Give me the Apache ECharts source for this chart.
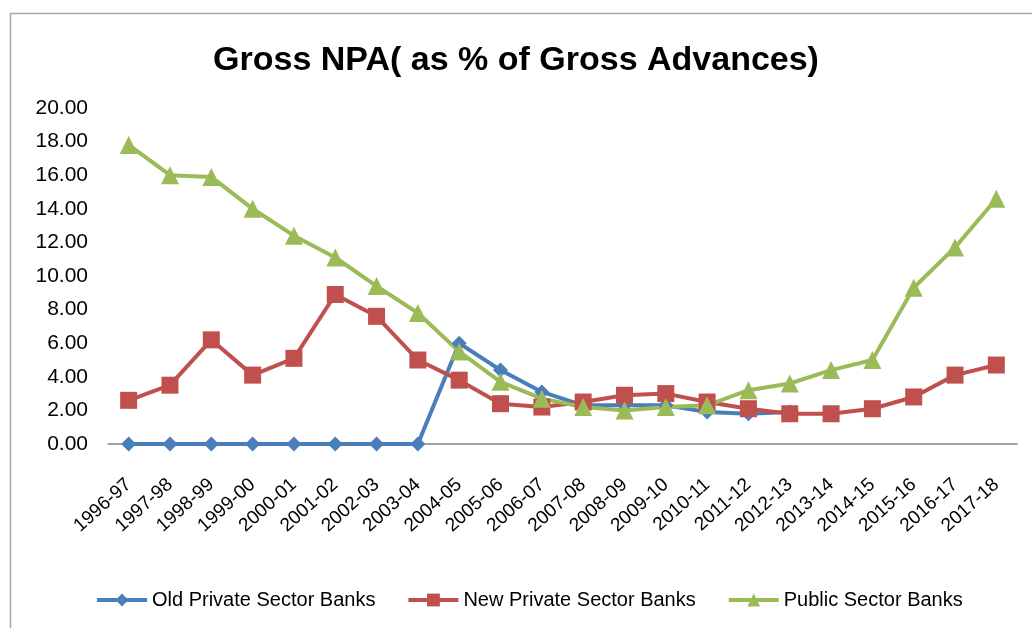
<!DOCTYPE html>
<html>
<head>
<meta charset="utf-8">
<script src="https://cdn.jsdelivr.net/npm/echarts@6/dist/echarts.min.js"></script>
<style>
  html, body { margin: 0; padding: 0; background: #fff; }
  #chart { width: 1032px; height: 628px; }
</style>
</head>
<body>
<div id="chart"></div>
<script>
// Fiscal years
const years = ['1996-97','1997-98','1998-99','1999-00','2000-01','2001-02','2002-03','2003-04',
  '2004-05','2005-06','2006-07','2007-08','2008-09','2009-10','2010-11','2011-12','2012-13',
  '2013-14','2014-15','2015-16','2016-17','2017-18'];

// Gross NPA as % of gross advances
const oldPrivate = [0, 0, 0, 0, 0, 0, 0, 0, 6.0, 4.4, 3.1, 2.3, 2.3, 2.3, 1.9, 1.8, 1.9,
  null, null, null, null, null];
const newPrivate = [2.6, 3.5, 6.2, 4.1, 5.1, 8.9, 7.6, 5.0, 3.8, 2.4, 2.2, 2.5, 2.9, 3.0, 2.5, 2.1, 1.8,
  1.8, 2.1, 2.8, 4.1, 4.7];
const publicSector = [17.8, 16.0, 15.9, 14.0, 12.4, 11.1, 9.4, 7.8, 5.5, 3.7, 2.7, 2.2, 2.0, 2.2, 2.3, 3.2, 3.6,
  4.4, 5.0, 9.3, 11.7, 14.6];

const seriesNames = ['Old Private Sector Banks', 'New Private Sector Banks', 'Public Sector Banks'];

const font = '"Liberation Sans", Arial, sans-serif';

const chart = echarts.init(document.getElementById('chart'));
chart.setOption({
  backgroundColor: '#fff',
  animation: false,
  graphic: [{
    type: 'rect',
    shape: { x: 10.5, y: 13.5, width: 1040, height: 640 },
    style: { fill: 'none', stroke: '#a6a6a6', lineWidth: 1.5 },
    silent: true
  }],
  title: {
    text: 'Gross NPA( as % of Gross Advances)',
    left: 'center',
    top: 39,
    textStyle: { fontFamily: font, fontSize: 34, fontWeight: 'bold', color: '#000' }
  },
  legend: {
    top: 585,
    left: 90,
    itemGap: 31,
    itemWidth: 50,
    itemHeight: 16,
    lineStyle: { width: 4 },
    textStyle: { fontFamily: font, fontSize: 20, color: '#000' },
    data: seriesNames
  },
  grid: { left: 108, right: 15, top: 108, bottom: 184 },
  xAxis: {
    type: 'category',
    data: years,
    boundaryGap: true,
    axisLine: { lineStyle: { color: '#868686', width: 1.5 } },
    axisTick: { show: false },
    axisLabel: { rotate: 42, interval: 0, fontFamily: font, fontSize: 19, color: '#000', margin: 38 }
  },
  yAxis: {
    type: 'value',
    min: 0, max: 20, interval: 2,
    axisLine: { show: false },
    axisTick: { show: false },
    splitLine: { show: false },
    axisLabel: { fontFamily: font, fontSize: 21, color: '#000', margin: 20,
      formatter: v => v.toFixed(2) }
  },
  series: [
    { name: seriesNames[0], type: 'line', data: oldPrivate, color: '#4a7ebb',
      symbol: 'diamond', symbolSize: 15, lineStyle: { width: 4 } },
    { name: seriesNames[1], type: 'line', data: newPrivate, color: '#c0504d',
      symbol: 'rect', symbolSize: 17, lineStyle: { width: 4 } },
    { name: seriesNames[2], type: 'line', data: publicSector, color: '#9bbb59',
      symbol: 'triangle', symbolSize: 18, lineStyle: { width: 4 } }
  ]
});
</script>
</body>
</html>
